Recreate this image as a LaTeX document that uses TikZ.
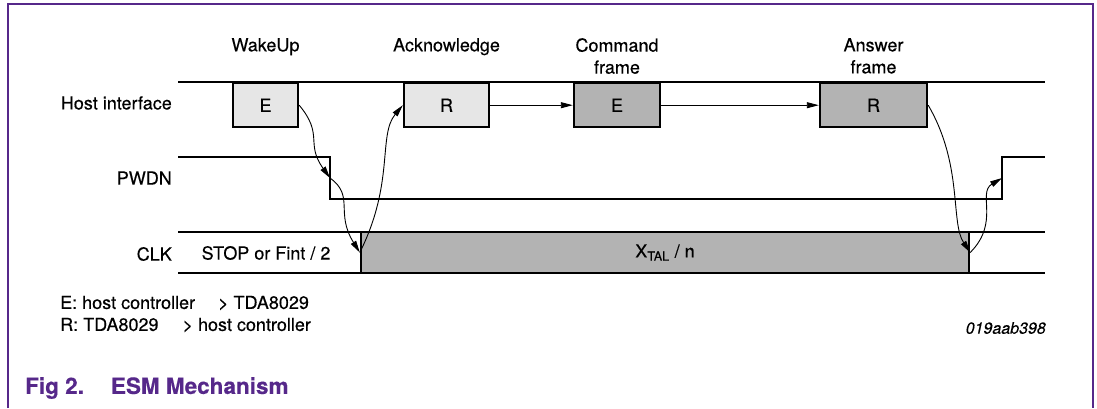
\documentclass[tikz,border=0pt]{standalone}
\usepackage{fontspec}
\setmainfont{TeX Gyre Heros}[FakeBold=0.35]
\usepackage{tikz}
\usetikzlibrary{arrows.meta,positioning}
\definecolor{nxppurple}{HTML}{56288A}
\definecolor{boxlight}{HTML}{E6E6E6}
\definecolor{boxdark}{HTML}{B3B3B3}
\newcommand\sigfont{\fontsize{18}{22}\selectfont}

\begin{document}
\begin{tikzpicture}[x=1pt,y=-1pt,
  >={Triangle[length=12pt,width=6pt]},
  wave/.style={line width=2.4pt},
  sigbox/.style={draw,line width=2.4pt,minimum height=44pt,anchor=north,
    inner sep=0pt,font=\sigfont},
  link/.style={->,line width=0.9pt},
  rowlabel/.style={anchor=east,inner sep=0pt,font=\sigfont},
  toplabel/.style={anchor=north,align=center,inner sep=0pt,font=\sigfont}
]
  \useasboundingbox (0,0) rectangle (1097,408);
  \draw[nxppurple,line width=1.5pt] (8,408) -- (8,4) -- (1093,4) -- (1093,408);

  % signal names
  \node[rowlabel] (hostlbl) at (172,103) {Host interface};
  \node[rowlabel] (pwdnlbl) at (172,178) {PWDN};
  \node[rowlabel] (clklbl) at (172,254) {CLK};

  % phases
  \node[toplabel] (wakeup) at (265.5,38) {WakeUp};
  \node[toplabel] (ack) at (446.5,38) {Acknowledge};
  \node[toplabel] (cmd) at (617,38) {Command\\frame};
  \node[toplabel] (answer) at (873.5,38) {Answer\\frame};

  % host interface
  \draw[wave] (178,82) -- (1045,82);
  \node[sigbox,fill=boxlight,minimum width=65pt] (e1) at (265.5,82) {E};
  \node[sigbox,fill=boxlight,minimum width=85pt] (r1) at (446.5,82) {R};
  \node[sigbox,fill=boxdark,minimum width=86pt] (e2) at (617,82) {E};
  \node[sigbox,fill=boxdark,minimum width=107pt] (r2) at (873.5,82) {R};

  % PWDN
  \coordinate (pwdnfall) at (330,178);
  \coordinate (pwdnrise) at (1002,178);
  \draw[wave] (178,157) -- (330,157) -- (330,199) -- (1002,199) -- (1002,157) -- (1045,157);

  % CLK
  \draw[wave] (178,232) -- (1045,232);
  \draw[wave] (178,273) -- (1045,273);
  \node[draw,wave,fill=boxdark,minimum width=608pt,minimum height=41pt,
    inner sep=0pt,font=\sigfont] (xtal) at (665,252.5) {X\textsubscript{TAL} / n};
  \node[font=\sigfont] (stop) at (266,253) {STOP or Fint / 2};

  \draw[link] (e1.east) .. controls +(25,30) and +(-25,-35) .. (pwdnfall);
  \draw[link] (pwdnfall) .. controls +(25,18) and +(-25,-40) .. (xtal.west);
  \draw[link] (xtal.west) .. controls +(35,-70) and +(-25,30) .. (r1.west);
  \draw[link] (r1.east) -- (e2.west);
  \draw[link] (e2.east) -- (r2.west);
  \draw[link] (r2.east) .. controls +(35,60) and +(-20,-30) .. (xtal.east);
  \draw[link] (xtal.east) .. controls +(30,-30) and +(-25,15) .. (pwdnrise);

  \node[anchor=west,align=left,inner sep=0pt,font=\sigfont] (legend) at (60,314)
    {E: host controller\hspace{23pt}> TDA8029\\R: TDA8029\hspace{24pt}> host controller};
  \node[anchor=east,inner sep=0pt,font=\fontsize{16}{19}\selectfont\itshape] (figcode)
    at (1046,328) {019aab398};
  \node[anchor=west,inner sep=0pt,text=nxppurple,
    font=\fontsize{22.5}{27}\selectfont\bfseries] (caption) at (25,388)
    {Fig 2.\hspace{27pt}ESM Mechanism};
\end{tikzpicture}
\end{document}
